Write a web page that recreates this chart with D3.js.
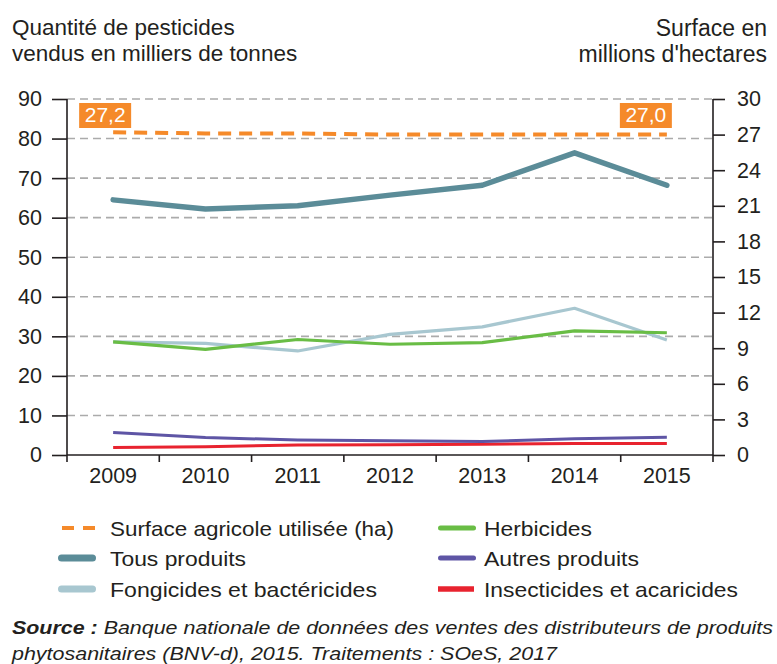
<!DOCTYPE html>
<html>
<head>
<meta charset="utf-8">
<script src="https://cdn.jsdelivr.net/npm/d3@7"></script>
<style>
    body { margin: 0; background: #fff; }
    svg text { font-family: "Liberation Sans", Arial, sans-serif; fill: #231f20; }
</style>
</head>
<body>
<div id="chart"></div>
<script>
// ----- data -----
let years = ["2009", "2010", "2011", "2012", "2013", "2014", "2015"];
let tousProduits = [64.5, 62.2, 63.0, 65.7, 68.2, 76.4, 68.2];
let fongicides = [28.6, 28.2, 26.3, 30.5, 32.4, 37.1, 29.1];
let herbicides = [28.6, 26.7, 29.2, 28.0, 28.4, 31.4, 30.9];
let autres = [5.7, 4.4, 3.8, 3.6, 3.4, 4.1, 4.5];
let insecticides = [1.9, 2.1, 2.5, 2.6, 2.7, 2.9, 2.9];
let surface = [27.2, 27.1, 27.1, 27.0, 27.0, 27.0, 27.0];

let leftTicks = [0, 10, 20, 30, 40, 50, 60, 70, 80, 90];
let rightTicks = [0, 3, 6, 9, 12, 15, 18, 21, 24, 27, 30];

let svgWidth = 777;
let svgHeight = 664;
let plotLeft = 67, plotRight = 713, plotTop = 99, plotBottom = 455;

let svg = d3.select("#chart").append("svg")
    .attr("width", svgWidth)
    .attr("height", svgHeight);

let x = d3.scaleBand().domain(years).range([plotLeft, plotRight]);
let yL = d3.scaleLinear().domain([0, 90]).range([plotBottom, plotTop]);
let yR = d3.scaleLinear().domain([0, 30]).range([plotBottom, plotTop]);

// titles
let titleL = svg.append("text").attr("x", 12).attr("y", 35).style("font-size", "22.5px");
titleL.append("tspan").attr("x", 12).text("Quantité de pesticides");
titleL.append("tspan").attr("x", 12).attr("dy", 26).text("vendus en milliers de tonnes");
let titleR = svg.append("text").attr("x", 767).attr("y", 36).attr("text-anchor", "end").style("font-size", "23px");
titleR.append("tspan").attr("x", 767).text("Surface en");
titleR.append("tspan").attr("x", 767).attr("dy", 26).text("millions d'hectares");

// grid
svg.append("g").selectAll("line")
    .data(leftTicks.filter(d => d > 0))
    .enter().append("line")
    .attr("x1", plotLeft).attr("x2", plotRight)
    .attr("y1", d => yL(d)).attr("y2", d => yL(d))
    .attr("stroke", "#ababab").attr("stroke-width", 1.6)
    .attr("stroke-dasharray", "8,5");

// axes
let axisL = svg.append("g").attr("transform", `translate(${plotLeft},0)`)
    .call(d3.axisLeft(yL).tickValues(leftTicks).tickSize(15).tickPadding(10));
let axisR = svg.append("g").attr("transform", `translate(${plotRight},0)`)
    .call(d3.axisRight(yR).tickValues(rightTicks).tickSize(12).tickPadding(12));
let axisX = svg.append("g").attr("transform", `translate(0,${plotBottom})`)
    .call(d3.axisBottom(x).tickSize(0).tickPadding(13));

[axisL, axisR, axisX].forEach(g => {
    g.select(".domain").remove();
    g.selectAll(".tick line").attr("stroke", "#231f20").attr("stroke-width", 1.6);
    g.selectAll("text").style("font-size", "21.5px").attr("fill", "#231f20");
});

// axis lines
svg.append("line").attr("x1", plotLeft).attr("x2", plotLeft).attr("y1", plotTop).attr("y2", plotBottom + 7)
    .attr("stroke", "#231f20").attr("stroke-width", 1.6);
svg.append("line").attr("x1", plotRight).attr("x2", plotRight).attr("y1", plotTop).attr("y2", plotBottom + 7)
    .attr("stroke", "#231f20").attr("stroke-width", 1.6);
svg.append("line").attr("x1", plotLeft).attr("x2", plotRight).attr("y1", plotBottom).attr("y2", plotBottom)
    .attr("stroke", "#231f20").attr("stroke-width", 1.6);
svg.append("g").selectAll("line")
    .data(years.slice(1))
    .enter().append("line")
    .attr("x1", d => x(d)).attr("x2", d => x(d))
    .attr("y1", plotBottom).attr("y2", plotBottom + 7)
    .attr("stroke", "#231f20").attr("stroke-width", 1.6);

// series
let cx = d => x(d) + x.bandwidth() / 2;

function drawLine(values, scale, color, width, dash) {
    let line = d3.line()
        .x((d, i) => cx(years[i]))
        .y(d => scale(d));
    let p = svg.append("path")
        .datum(values)
        .attr("d", line)
        .attr("fill", "none")
        .attr("stroke", color)
        .attr("stroke-width", width)
        .attr("stroke-linejoin", "round");
    if (dash) p.attr("stroke-dasharray", dash);
    return p;
}

drawLine(insecticides, yL, "#e8232f", 3);
drawLine(autres, yL, "#5e55a5", 3);
drawLine(fongicides, yL, "#a8c7d0", 3.2);
drawLine(herbicides, yL, "#69bd45", 3.2);
drawLine(tousProduits, yL, "#5b8c98", 5.5).attr("stroke-linecap", "round");
drawLine(surface, yR, "#f58a2a", 4, "13,8");

// value labels
let labels = [
    { i: 0, text: "27,2", dx: -34 },
    { i: 6, text: "27,0", dx: -47 }
];
labels.forEach(l => {
    let bx = cx(years[l.i]) + l.dx;
    svg.append("rect").attr("x", bx).attr("y", 103).attr("width", 52).attr("height", 25)
        .attr("fill", "#f58a2a");
    svg.append("text").attr("x", bx + 26).attr("y", 122).attr("text-anchor", "middle")
        .style("font-size", "21px").style("fill", "#fff").text(l.text);
});

// legend
let legendItems = [
    { name: "Surface agricole utilisée (ha)", color: "#f58a2a", col: 0, row: 0, type: "dash", w: 284 },
    { name: "Tous produits", color: "#5b8c98", col: 0, row: 1, type: "round", w: 136 },
    { name: "Fongicides et bactéricides", color: "#a8c7d0", col: 0, row: 2, type: "round", w: 267 },
    { name: "Herbicides", color: "#69bd45", col: 1, row: 0, type: "round5", w: 108 },
    { name: "Autres produits", color: "#5e55a5", col: 1, row: 1, type: "round5", w: 155 },
    { name: "Insecticides et acaricides", color: "#e8232f", col: 1, row: 2, type: "flat", w: 254 }
];
let colX = [58, 438];
let rowY = [528, 558, 589];

let legend = svg.append("g");
legendItems.forEach(it => {
    let x0 = colX[it.col], y0 = rowY[it.row];
    if (it.type === "dash") {
        legend.append("line").attr("x1", x0 + 4).attr("x2", x0 + 38).attr("y1", y0).attr("y2", y0)
            .attr("stroke", it.color).attr("stroke-width", 4).attr("stroke-dasharray", "12,9");
    } else if (it.type === "flat") {
        legend.append("line").attr("x1", x0).attr("x2", x0 + 36).attr("y1", y0).attr("y2", y0)
            .attr("stroke", it.color).attr("stroke-width", 5.5);
    } else {
        let sw = it.type === "round" ? 7 : 5;
        legend.append("line").attr("x1", x0 + sw / 2).attr("x2", x0 + 38 - sw / 2).attr("y1", y0).attr("y2", y0)
            .attr("stroke", it.color).attr("stroke-width", sw).attr("stroke-linecap", "round");
    }
    legend.append("text")
        .attr("x", it.col === 0 ? 110 : 484)
        .attr("y", y0 + 7.5)
        .attr("textLength", it.w)
        .attr("lengthAdjust", "spacingAndGlyphs")
        .style("font-size", "21px")
        .text(it.name);
});

// source
let src = svg.append("text").attr("x", 12).attr("y", 634)
    .attr("textLength", 761).attr("lengthAdjust", "spacingAndGlyphs")
    .style("font-size", "18px").style("font-style", "italic");
src.append("tspan").style("font-weight", "bold").text("Source :");
src.append("tspan").text(" Banque nationale de données des ventes des distributeurs de produits");
svg.append("text").attr("x", 12).attr("y", 660)
    .attr("textLength", 545).attr("lengthAdjust", "spacingAndGlyphs")
    .style("font-size", "18px").style("font-style", "italic")
    .text("phytosanitaires (BNV-d), 2015. Traitements : SOeS, 2017");
</script>
</body>
</html>
